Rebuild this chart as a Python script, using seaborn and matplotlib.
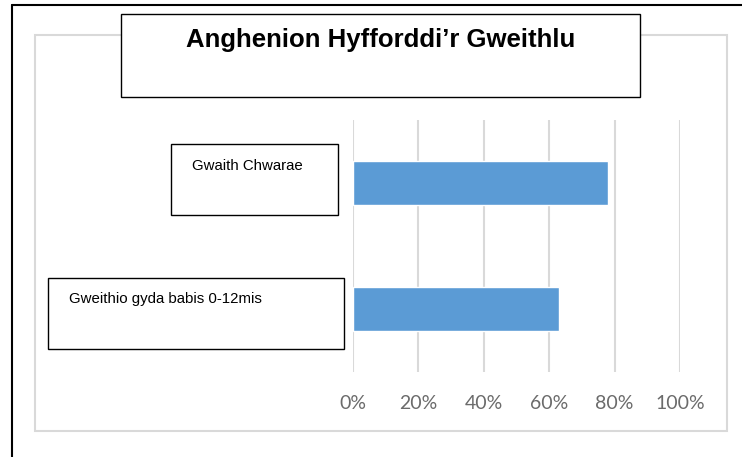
import matplotlib
matplotlib.use("Agg")
import matplotlib.pyplot as plt
from matplotlib.patches import Rectangle
from matplotlib.lines import Line2D
from matplotlib.ticker import FixedLocator
import seaborn as sns
import pandas as pd

# Data
categories = ["Gwaith Chwarae", "Gweithio gyda babis 0-12mis"]
values = [0.78, 0.63]
tick_values = [0.0, 0.2, 0.4, 0.6, 0.8, 1.0]
tick_labels = ["0%", "20%", "40%", "60%", "80%", "100%"]
title = "Anghenion Hyfforddi\u2019r Gweithlu"

W, H = 742, 457
sns.set_theme(style="white")
plt.rcParams["font.family"] = ["Liberation Sans", "DejaVu Sans"]

fig = plt.figure(figsize=(W / 100, H / 100), dpi=100)
fig.patch.set_facecolor("white")


def fx(px):
    return px / W


def fy(py):
    return 1 - py / H


# Plot area
ax = fig.add_axes([fx(353), fy(372), fx(680) - fx(353), fy(120) - fy(372)])
df = pd.DataFrame({"category": categories, "value": values})
sns.barplot(data=df, x="value", y="category", orient="h", color="#5B9BD5",
            saturation=1, width=0.35, ax=ax, zorder=3)
ax.set_xlim(0, 1.0)
ax.set_ylim(1.5, -0.5)
ax.xaxis.set_major_locator(FixedLocator(tick_values))
ax.set_xticklabels(tick_labels, fontsize=14, color="#6b6b6b",
                   family=["Lato", "DejaVu Sans"])
ax.tick_params(axis="x", length=0, pad=16.5)
ax.set_yticks([])
ax.set_xlabel("")
ax.set_ylabel("")
ax.grid(axis="x", color="#D9D9D9", linewidth=1.5, zorder=0)
ax.set_axisbelow(True)
for s in ax.spines.values():
    s.set_visible(False)

# Outer chart-area border
fig.add_artist(Rectangle((fx(35), fy(431)), fx(727) - fx(35), fy(35) - fy(431),
                         transform=fig.transFigure, fill=False,
                         edgecolor="#D9D9D9", linewidth=1.5))

# Black frame lines (top and left)
fig.add_artist(Line2D([fx(12), 1.0], [fy(5), fy(5)], transform=fig.transFigure,
                      color="black", linewidth=1.5))
fig.add_artist(Line2D([fx(12), fx(12)], [fy(5), 0.0], transform=fig.transFigure,
                      color="black", linewidth=1.5))

# Title box
fig.add_artist(Rectangle((fx(121), fy(97)), fx(640) - fx(121), fy(14) - fy(97),
                         transform=fig.transFigure, facecolor="white",
                         edgecolor="black", linewidth=1.0, zorder=5))
fig.text(fx(381), fy(47), title, ha="center", va="baseline", fontsize=18.5,
         fontweight="bold", color="black", zorder=6)

# Category label boxes
label_boxes = [(171, 144, 338, 215), (48, 278, 344, 349)]
for text, (x0, y0, x1, y1) in zip(categories, label_boxes):
    fig.add_artist(Rectangle((fx(x0), fy(y1)), fx(x1) - fx(x0), fy(y0) - fy(y1),
                             transform=fig.transFigure, facecolor="white",
                             edgecolor="black", linewidth=1.0, zorder=5))
    fig.text(fx(x0 + 21), fy(y0 + 25.5), text, ha="left", va="baseline",
             fontsize=10.8, color="black", zorder=6)

fig.savefig("out.png", dpi=100)
